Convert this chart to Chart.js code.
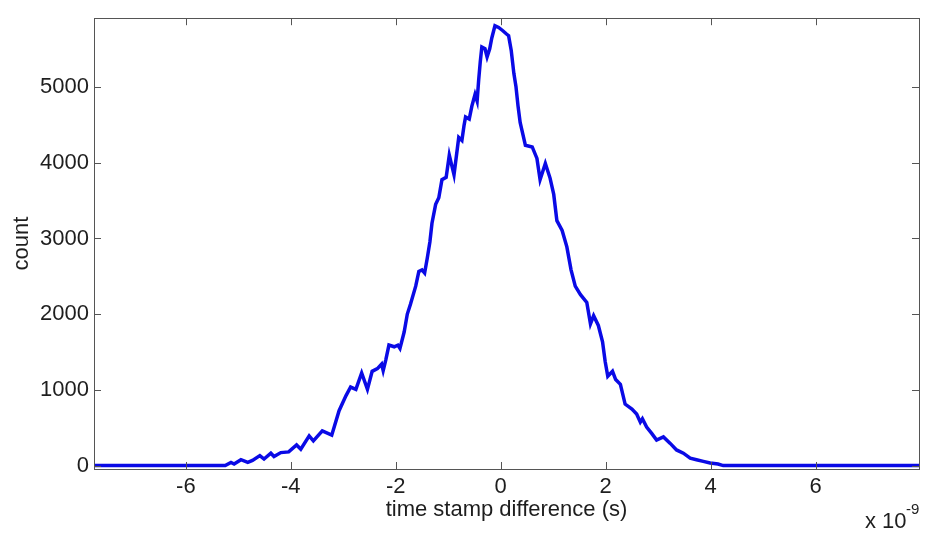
<!DOCTYPE html>
<html>
<head>
<meta charset="utf-8">
<script src="https://cdn.jsdelivr.net/npm/chart.js@4.4.1/dist/chart.umd.min.js"></script>
<style>
  html, body { margin: 0; padding: 0; background: #fff; }
  canvas { display: block; }
</style>
</head>
<body>
<canvas id="histChart" width="926" height="536"></canvas>
<script>
// time stamp difference, in units of 1e-9 s
const timeNs = [
  -7.75, -5.25, -5.14, -5.08, -4.95, -4.82, -4.73, -4.59, -4.51, -4.38,
  -4.32, -4.19, -4.04, -3.89, -3.81, -3.65, -3.57, -3.40, -3.22, -3.08,
  -2.95, -2.86, -2.76, -2.65, -2.54, -2.45, -2.35, -2.27, -2.24, -2.19,
  -2.13, -2.03, -1.96, -1.92, -1.84, -1.78, -1.72, -1.62, -1.56, -1.50,
  -1.45, -1.40, -1.35, -1.31, -1.24, -1.18, -1.12, -1.04, -0.98, -0.89,
  -0.80, -0.74, -0.70, -0.67, -0.60, -0.55, -0.49, -0.45, -0.42, -0.39,
  -0.36, -0.30, -0.26, -0.21, -0.17, -0.11, -0.04, 0.04, 0.11, 0.15,
  0.20, 0.25, 0.29, 0.33, 0.37, 0.42, 0.47, 0.60, 0.69, 0.75,
  0.85, 0.94, 1.01, 1.07, 1.17, 1.26, 1.34, 1.42, 1.52, 1.64,
  1.71, 1.77, 1.86, 1.94, 1.99, 2.04, 2.13, 2.19, 2.28, 2.37,
  2.50, 2.59, 2.66, 2.70, 2.78, 2.88, 2.97, 3.10, 3.23, 3.35,
  3.48, 3.61, 3.73, 3.86, 3.99, 4.14, 4.24, 7.97
];
const counts = [
  10, 10, 52, 30, 87, 52, 78, 142, 96, 173,
  129, 181, 190, 281, 225, 401, 336, 466, 410, 733,
  928, 1044, 1014, 1229, 1014, 1251, 1286, 1345, 1260, 1402,
  1596, 1574, 1596, 1552, 1768, 2005, 2134, 2372, 2567, 2587,
  2545, 2739, 2954, 3200, 3450, 3537, 3774, 3804, 4097, 3838,
  4330, 4291, 4485, 4600, 4572, 4743, 4895, 4808, 5089, 5326,
  5520, 5498, 5390, 5498, 5640, 5800, 5778, 5735, 5692, 5670,
  5476, 5174, 5002, 4743, 4528, 4377, 4227, 4205, 4054, 3774,
  3989, 3795, 3580, 3234, 3105, 2890, 2587, 2372, 2260, 2157,
  1876, 1984, 1855, 1639, 1380, 1186, 1251, 1143, 1079, 820,
  755, 690, 582, 626, 517, 431, 345, 388, 302, 216,
  173, 108, 87, 65, 44, 31, 10, 10
];
const xTicks = [-6, -4, -2, 0, 2, 4, 6];
const yTicks = [0, 1000, 2000, 3000, 4000, 5000];

const FONT = "'Liberation Sans', Arial, sans-serif";
const TEXT = '#1e1e1e';
const AXIS = '#555555';

// box round the plot with inward ticks on all four sides, plus the x 10^-9 note
const matlabAxes = {
  id: 'matlabAxes',
  afterDatasetsDraw(chart) {
    const { ctx, chartArea: a, scales } = chart;
    const tl = 7;
    ctx.save();
    ctx.strokeStyle = AXIS;
    ctx.lineWidth = 1;
    ctx.beginPath();
    scales.x.ticks.forEach(t => {
      const px = Math.round(scales.x.getPixelForValue(t.value)) + 0.5;
      ctx.moveTo(px, a.bottom); ctx.lineTo(px, a.bottom - tl);
      ctx.moveTo(px, a.top); ctx.lineTo(px, a.top + tl);
    });
    scales.y.ticks.forEach(t => {
      const py = Math.round(scales.y.getPixelForValue(t.value)) + 0.5;
      ctx.moveTo(a.left, py); ctx.lineTo(a.left + tl, py);
      ctx.moveTo(a.right, py); ctx.lineTo(a.right - tl, py);
    });
    ctx.stroke();
    ctx.strokeRect(Math.round(a.left) + 0.5, Math.round(a.top) + 0.5,
      Math.round(a.right - a.left), Math.round(a.bottom - a.top));

    ctx.fillStyle = TEXT;
    ctx.textBaseline = 'alphabetic';
    ctx.textAlign = 'left';
    ctx.font = '22px ' + FONT;
    ctx.fillText('x 10', 865, 528);
    ctx.font = '15px ' + FONT;
    ctx.fillText('-9', 906, 514);
    ctx.restore();
  }
};

new Chart(document.getElementById('histChart'), {
  type: 'line',
  data: {
    datasets: [{
      data: timeNs.map((t, i) => ({ x: t, y: counts[i] })),
      borderColor: '#0a0ae6',
      borderWidth: 3.5,
      pointRadius: 0,
      tension: 0,
      fill: false
    }]
  },
  options: {
    responsive: false,
    animation: false,
    layout: { padding: { left: 0, right: 7, top: 9, bottom: 0 } },
    plugins: {
      legend: { display: false },
      tooltip: { enabled: false }
    },
    scales: {
      x: {
        type: 'linear',
        min: -7.75,
        max: 7.97,
        afterBuildTicks: s => { s.ticks = xTicks.map(v => ({ value: v })); },
        afterFit: s => { s.height = 67; },
        grid: { display: false, drawTicks: false },
        border: { display: false },
        ticks: {
          color: TEXT, padding: 5, font: { family: FONT, size: 22 },
          callback: v => String(v)
        },
        title: {
          display: true,
          text: 'time stamp difference (s)',
          color: TEXT,
          font: { family: FONT, size: 22 },
          padding: { top: 0, bottom: 13 }
        }
      },
      y: {
        min: -35,
        max: 5900,
        afterBuildTicks: s => { s.ticks = yTicks.map(v => ({ value: v })); },
        afterFit: s => { s.width = 94; },
        grid: { display: false, drawTicks: false },
        border: { display: false },
        ticks: {
          color: TEXT, padding: 5, font: { family: FONT, size: 22 },
          callback: v => String(v)
        },
        title: {
          display: true,
          text: 'count',
          color: TEXT,
          font: { family: FONT, size: 22 },
          padding: { top: 9, bottom: 0 }
        }
      }
    }
  },
  plugins: [matlabAxes]
});
</script>
</body>
</html>
